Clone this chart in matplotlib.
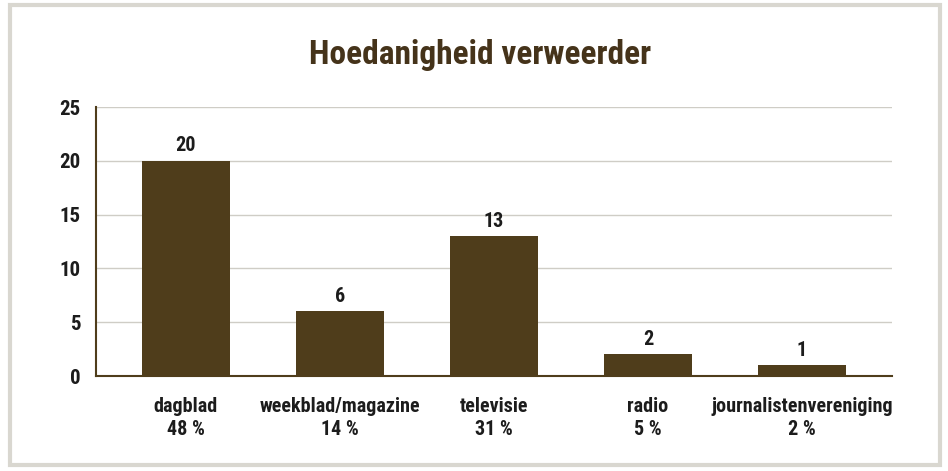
import matplotlib
matplotlib.use("Agg")
import matplotlib.pyplot as plt
from matplotlib.patches import Rectangle
import numpy as np

# data
categories = ['dagblad', 'weekblad/magazine', 'televisie', 'radio', 'journalistenvereniging']
counts = [20, 6, 13, 2, 1]
percentages = ['48 %', '14 %', '31 %', '5 %', '2 %']
y_ticks = [0, 5, 10, 15, 20, 25]

bar_color = '#4f3d1b'
title_color = '#45331a'
text_color = '#1c1c1c'

plt.rcParams['font.family'] = ['Roboto Condensed', 'Barlow Condensed', 'DejaVu Sans']
plt.rcParams['font.weight'] = 'bold'

fig = plt.figure(figsize=(9.48, 4.71), dpi=100)
fig.patch.set_facecolor('white')
# gray frame round the picture
fig.patches.append(Rectangle((10 / 948, 6 / 471), 930 / 948, 460 / 471,
                             transform=fig.transFigure, fill=False,
                             edgecolor='#d9d7d0', linewidth=3))

ax = fig.add_axes([96 / 948, 1 - 376 / 471, 796 / 948, 269 / 471])
x_pos = np.arange(len(categories))
bars = ax.bar(x_pos, counts, width=0.57, color=bar_color, zorder=3)

ax.set_xlim(-0.584, 4.584)
ax.set_ylim(0, 25)
ax.set_yticks(y_ticks)
ax.set_yticklabels([str(t) for t in y_ticks], fontsize=15, color=text_color, fontweight='bold')
ax.tick_params(axis='y', length=0, pad=11)
ax.tick_params(axis='x', length=0, pad=15)
ax.set_xticks(x_pos)
ax.set_xticklabels([c + '\n' + p for c, p in zip(categories, percentages)],
                   fontsize=14.5, color=text_color, fontweight='bold', linespacing=1.3)

ax.grid(axis='y', color='#cfcdc6', linewidth=1, zorder=0)
for s in ['top', 'right']:
    ax.spines[s].set_visible(False)
ax.spines['left'].set_color(bar_color)
ax.spines['bottom'].set_color(bar_color)
ax.spines['left'].set_linewidth(1.5)
ax.spines['bottom'].set_linewidth(1.5)

for rect, v in zip(bars, counts):
    ax.annotate(str(v), (rect.get_x() + rect.get_width() / 2, v),
                xytext=(0, 4), textcoords='offset points', ha='center', va='bottom',
                fontsize=14.5, fontweight='bold', color=text_color)

fig.text(480 / 948, 1 - 55 / 471, 'Hoedanigheid verweerder', ha='center', va='center',
         fontsize=24, fontweight='bold', color=title_color)

fig.savefig('out.png', dpi=100)
